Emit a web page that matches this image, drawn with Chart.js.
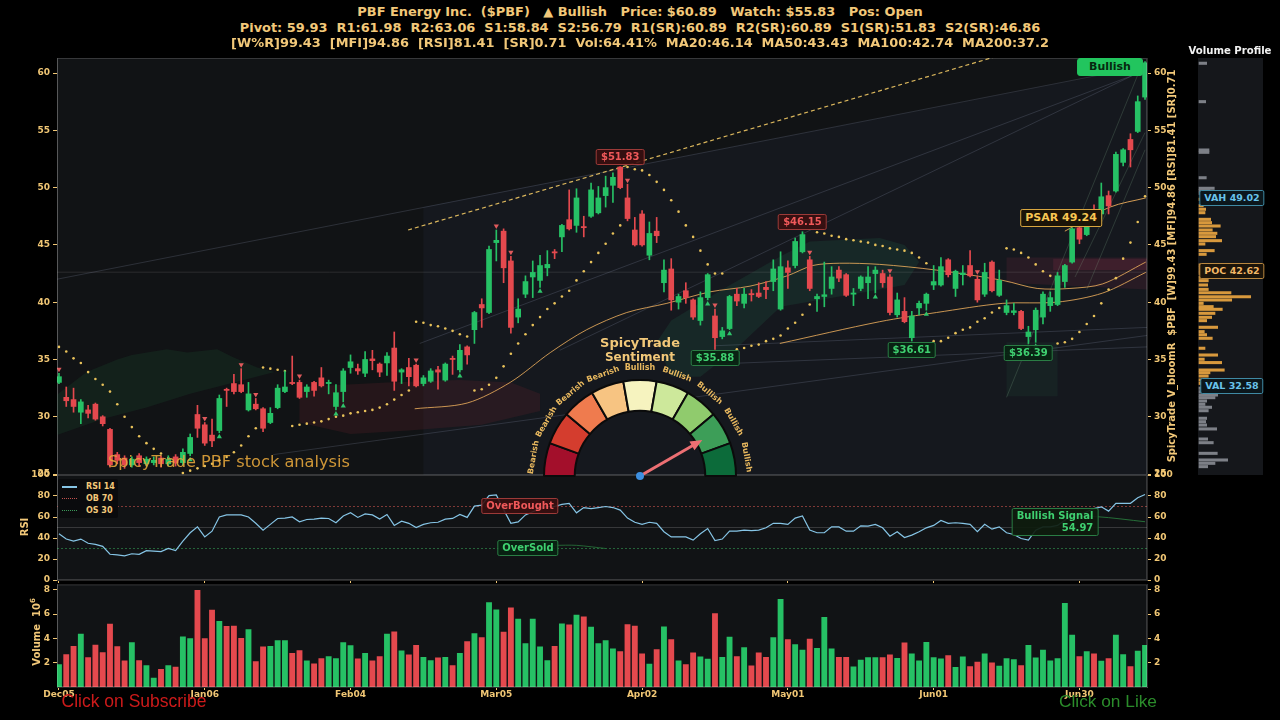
<!DOCTYPE html>
<html lang="en">
<head>
<meta charset="UTF-8">
<title>PBF Energy chart</title>
<script src="https://cdn.jsdelivr.net/npm/chart.js@4.4.1/dist/chart.umd.min.js"></script>
<style>
  html, body { margin: 0; padding: 0; background: #000; }
  body { position: relative; width: 1280px; height: 720px; overflow: hidden; font-family: 'DejaVu Sans', sans-serif; }
  canvas { position: absolute; }
  .txt { position: absolute; white-space: pre; font-weight: bold; color: #f2c879; transform: translate(-50%, -50%); line-height: 1; }
  .box { position: absolute; white-space: pre; transform: translate(-50%, -50%); font: bold 10px 'DejaVu Sans', sans-serif; padding: 1px 4px; border: 1px solid; border-radius: 2px; line-height: 12px; }
  .red { color: #f0595a; border-color: #9c3a38; background: rgba(58, 16, 16, 0.9); }
  .grn { color: #3fd070; border-color: #2a7d44; background: rgba(8, 36, 18, 0.9); }
  .psar { color: #f7c653; border-color: #d8a640; background: #1b1408; font-size: 11px; line-height: 14px; }
  .bull { color: #07290f; background: #22c55e; border-color: #22c55e; font-size: 11px; padding: 2px 11px; border-radius: 3px; }
  .vah { color: #69c3ea; border-color: #3f8aa4; background: #0c171c; font-size: 9.5px; }
  .poc { color: #f2b766; border-color: #b9873f; background: #1b140a; font-size: 9.5px; }
  .rot { position: absolute; white-space: pre; font-weight: bold; color: #f2c879; transform: translate(-50%, -50%) rotate(-90deg); line-height: 1; }
  .leg { position: absolute; left: 28px; font: bold 8px 'DejaVu Sans', sans-serif; color: #f2c879; }
  .sw { position: absolute; left: 4px; width: 15px; height: 0; }
</style>
</head>
<body>
<canvas id="main" width="1280" height="440" style="left:0;top:48px"></canvas>
<canvas id="rsi" width="1280" height="124" style="left:0;top:466px"></canvas>
<canvas id="vol" width="1280" height="144" style="left:0;top:576px"></canvas>
<canvas id="vp" width="65" height="417" style="left:1198px;top:58px"></canvas>
<canvas id="gauge" width="240" height="130" style="left:520px;top:363px"></canvas>

<div class="txt" id="t1" data-w="566" style="left:640px;top:12px;font-size:13px">PBF Energy Inc.  ($PBF)   ▲ Bullish   Price: $60.89   Watch: $55.83   Pos: Open</div>
<div class="txt" id="t2" data-w="801" style="left:640px;top:28px;font-size:13px">Pivot: 59.93  R1:61.98  R2:63.06  S1:58.84  S2:56.79  R1(SR):60.89  R2(SR):60.89  S1(SR):51.83  S2(SR):46.86</div>
<div class="txt" id="t3" data-w="819" style="left:640px;top:43px;font-size:13px">[W%R]99.43  [MFI]94.86  [RSI]81.41  [SR]0.71  Vol:64.41%  MA20:46.14  MA50:43.43  MA100:42.74  MA200:37.2</div>
<div class="txt" data-w="83" style="left:1230px;top:51px;font-size:10px;color:#f2f2f2">Volume Profile</div>
<div class="rot" data-w="393" style="left:1172px;top:266px;font-size:11px">SpicyTrade V_bloomR  $PBF  [W]99.43 [MFI]94.86 [RSI]81.41 [SR]0.71</div>
<div class="rot" style="left:25px;top:527px;font-size:10px">RSI</div>
<div class="rot" style="left:36px;top:632px;font-size:10px">Volume  10<sup style="font-size:7px">6</sup></div>

<div class="txt" data-w="80" style="left:640px;top:343px;font-size:12px">SpicyTrade</div>
<div class="txt" data-w="70" style="left:640px;top:357px;font-size:12px">Sentiment</div>

<div class="txt" data-w="242" style="left:229px;top:462px;font-size:17px;font-weight:normal;color:rgba(232,168,60,0.88)">SpicyTrade PBF stock analysis</div>
<div class="txt" data-w="145" style="left:134px;top:702px;font-size:18px;font-weight:normal;font-family:'Liberation Sans',sans-serif;color:#cc1a1a">Click on Subscribe</div>
<div class="txt" data-w="98" style="left:1108px;top:702px;font-size:18px;font-weight:normal;font-family:'Liberation Sans',sans-serif;color:#2b8c2b">Click on Like</div>

<div class="box psar" style="left:1061px;top:218px">PSAR 49.24</div>
<div class="box bull" style="left:1110px;top:67px">Bullish</div>
<div class="box red" style="left:520px;top:506px">OverBought</div>
<div class="box grn" style="left:528px;top:548px">OverSold</div>
<div class="box grn" style="left:1055px;top:522px;text-align:right;background:rgba(14,28,14,0.92)">Bullish Signal
54.97</div>
<div class="box vah" style="left:1232px;top:198px">VAH 49.02</div>
<div class="box poc" style="left:1232px;top:271px">POC 42.62</div>
<div class="box vah" style="left:1232px;top:386px">VAL 32.58</div>

<div id="leg" style="position:absolute;left:58px;top:479px;width:60px;height:39px;background:#0a0b0d;border-radius:2px">
  <span class="sw" style="top:7px;border-top:2px solid #86c5e6"></span><span class="leg" style="top:3px">RSI 14</span>
  <span class="sw" style="top:19px;border-top:1px dotted #c0504d"></span><span class="leg" style="top:15px">OB 70</span>
  <span class="sw" style="top:31px;border-top:1px dotted #3a9a58"></span><span class="leg" style="top:27px">OS 30</span>
</div>

<script>
// x axis: one slot per trading day, a label every 20 bars
const tickLabels = ['Dec05', 'Jan06', 'Feb04', 'Mar05', 'Apr02', 'May01', 'Jun01', 'Jun30'];
const tickIndex = [0, 20, 40, 60, 80, 100, 120, 140];
const priceTicks = [25, 30, 35, 40, 45, 50, 55, 60];
const rsiTicks = [0, 20, 40, 60, 80, 100];
const volTicks = [2, 4, 6, 8];

const opens = [
  33.0, 31.7, 31.5, 30.4, 30.6, 31.1, 30.0, 28.9, 26.7, 26.4,
  25.8, 26.6, 25.9, 26.0, 26.4, 25.9, 26.5, 26.0, 26.8, 30.2,
  29.3, 28.4, 28.8, 32.4, 32.9, 32.8, 30.6, 31.1, 30.7, 29.5,
  30.8, 32.2, 33.0, 33.0, 32.2, 33.0, 33.4, 32.9, 30.9, 32.2,
  34.3, 34.2, 33.8, 35.05, 34.6, 34.7, 36.0, 33.9, 34.3, 34.5,
  32.9, 33.1, 34.1, 33.2, 35.1, 34.1, 36.1, 37.6, 39.8, 39.1,
  45.2, 46.2, 43.6, 38.7, 40.7, 42.2, 41.9, 43.0, 44.4, 45.7,
  47.2, 46.7, 46.6, 47.5, 47.8, 49.3, 50.2, 51.8, 49.1, 46.3,
  47.7, 44.1, 46.2, 41.7, 42.9, 40.0, 41.0, 40.2, 38.4, 40.4,
  38.8, 37.0, 37.7, 40.7, 39.9, 40.75, 40.8, 41.3, 41.8, 39.4,
  43.0, 43.2, 44.4, 43.7, 40.3, 40.5, 41.2, 42.8, 42.4, 40.7,
  41.2, 41.7, 42.5, 42.5, 42.2, 38.9, 39.2, 36.9, 39.5, 39.9,
  41.5, 41.5, 43.7, 41.2, 42.4, 43.2, 42.0, 40.7, 43.5, 40.6,
  39.1, 39.1, 39.2, 37.0, 37.6, 38.7, 39.7, 39.8, 41.8, 43.5,
  46.5, 45.9, 48.1, 47.7, 49.3, 49.7, 52.2, 54.2, 54.9, 57.9
];
const highs = [
  33.8, 32.6, 32.5, 31.5, 31.0, 31.2, 30.1, 29.0, 26.9, 26.6,
  26.5, 26.8, 26.5, 26.5, 26.6, 26.6, 26.7, 27.2, 28.5, 31.0,
  29.5, 29.8, 31.9, 32.5, 33.7, 34.2, 33.0, 31.6, 30.8, 30.8,
  32.8, 34.0, 35.3, 33.2, 32.8, 33.1, 34.3, 33.2, 32.8, 34.2,
  35.4, 34.6, 35.7, 35.8, 34.7, 35.6, 37.4, 34.2, 35.1, 34.6,
  33.6, 34.2, 34.4, 34.7, 35.3, 36.3, 36.2, 39.2, 40.3, 44.9,
  46.3, 46.4, 44.0, 40.3, 42.3, 43.6, 44.1, 44.5, 44.6, 46.8,
  49.8, 49.9, 47.5, 50.4, 50.1, 51.0, 51.3, 51.83, 50.3, 47.4,
  48.0, 47.0, 47.4, 43.7, 43.8, 40.7, 41.7, 40.3, 40.9, 42.5,
  39.4, 37.8, 40.6, 41.2, 41.2, 41.1, 41.7, 41.8, 43.7, 44.4,
  43.6, 45.6, 46.15, 44.0, 40.7, 43.5, 43.1, 43.1, 42.5, 41.2,
  42.3, 43.1, 43.1, 42.8, 42.4, 40.8, 40.4, 39.2, 40.1, 40.8,
  43.2, 43.9, 43.8, 42.8, 43.2, 44.5, 42.3, 43.4, 43.6, 42.8,
  40.2, 39.9, 39.3, 37.9, 39.5, 40.9, 40.9, 42.6, 43.3, 46.5,
  46.8, 48.1, 48.5, 50.4, 49.7, 53.1, 53.4, 54.7, 58.0, 61.0
];
const lows = [
  32.9, 30.9, 30.4, 29.4, 29.9, 29.7, 29.2, 25.6, 25.9, 25.5,
  25.6, 25.7, 25.7, 25.8, 25.6, 25.7, 25.7, 25.8, 26.6, 28.2,
  27.5, 27.4, 28.6, 30.9, 32.0, 32.1, 30.5, 30.6, 28.7, 29.4,
  30.7, 32.1, 32.8, 31.6, 31.7, 31.8, 32.6, 32.0, 30.6, 31.3,
  33.8, 33.7, 33.5, 34.1, 33.5, 33.6, 32.3, 32.9, 32.7, 32.6,
  32.7, 33.0, 32.4, 33.1, 33.7, 33.9, 34.6, 36.4, 37.8, 39.0,
  43.6, 41.7, 37.3, 38.2, 40.4, 40.4, 41.3, 42.3, 43.8, 44.4,
  46.3, 46.1, 45.7, 47.4, 47.7, 48.3, 48.7, 49.9, 47.1, 44.9,
  44.9, 43.7, 45.2, 40.9, 39.3, 39.4, 39.9, 38.5, 38.0, 40.2,
  35.88, 36.8, 37.6, 39.7, 39.5, 40.1, 40.4, 40.3, 41.0, 39.3,
  41.2, 43.0, 44.3, 41.0, 39.2, 39.6, 40.7, 41.8, 40.5, 39.7,
  41.0, 40.3, 40.8, 41.3, 38.9, 38.7, 38.2, 36.61, 38.9, 39.3,
  41.1, 41.4, 42.2, 40.5, 41.5, 42.2, 40.0, 40.5, 40.9, 40.5,
  38.9, 38.9, 37.6, 36.39, 36.5, 38.1, 39.2, 39.7, 41.3, 43.4,
  45.1, 45.8, 47.2, 47.3, 47.7, 49.6, 51.9, 51.8, 54.8, 57.7
];
const closes = [
  33.5, 31.4, 30.9, 31.3, 30.3, 29.8, 29.4, 25.8, 26.2, 25.8,
  26.3, 26.0, 26.3, 26.2, 25.9, 26.3, 26.0, 26.9, 28.2, 29.0,
  27.7, 27.9, 31.6, 32.3, 32.2, 32.2, 32.0, 30.7, 29.0, 30.3,
  32.5, 32.6, 32.9, 31.7, 32.6, 32.3, 32.7, 33.0, 32.1, 34.0,
  34.8, 34.0, 35.0, 34.9, 33.9, 35.3, 33.1, 34.1, 33.5, 32.7,
  33.4, 34.0, 33.9, 34.6, 35.0, 35.8, 35.4, 39.1, 39.5, 44.6,
  45.4, 43.0, 37.8, 39.4, 41.8, 42.6, 43.2, 43.3, 44.3, 46.7,
  46.4, 49.1, 46.5, 49.8, 49.1, 50.0, 50.9, 50.0, 47.3, 45.0,
  45.0, 46.0, 45.8, 42.8, 40.2, 40.5, 40.4, 38.7, 40.4, 42.4,
  36.9, 37.5, 40.5, 40.1, 40.7, 40.65, 40.5, 41.1, 42.9, 43.1,
  42.6, 45.3, 45.9, 41.2, 40.5, 40.65, 42.2, 42.1, 40.6, 40.8,
  42.2, 42.2, 42.8, 41.7, 39.1, 40.2, 38.3, 38.8, 39.9, 40.7,
  41.8, 43.1, 42.4, 42.7, 42.55, 42.3, 40.2, 42.6, 41.0, 41.9,
  39.7, 39.25, 37.7, 37.4, 39.3, 40.7, 40.4, 42.3, 43.2, 46.4,
  45.5, 47.9, 47.7, 49.2, 48.4, 52.9, 53.3, 53.3, 57.5, 60.89
];
// volume in millions
const volumes = [
  1.85, 2.67, 3.35, 4.36, 2.43, 3.46, 2.84, 5.18, 3.33, 2.15,
  3.65, 2.18, 1.77, 0.74, 1.45, 1.77, 1.64, 4.14, 3.98, 7.96,
  3.98, 6.33, 5.40, 4.99, 5.02, 4.01, 4.72, 2.10, 3.30, 3.35,
  3.82, 3.82, 2.78, 3.00, 2.15, 1.91, 2.35, 2.51, 2.35, 3.65,
  3.41, 2.32, 2.78, 2.15, 2.51, 4.36, 4.55, 2.97, 2.65, 3.44,
  2.45, 2.18, 2.40, 2.45, 1.77, 2.78, 3.74, 4.39, 4.06, 6.95,
  6.35, 4.53, 6.52, 5.59, 3.57, 5.59, 3.30, 2.18, 3.35, 5.21,
  5.13, 5.92, 5.78, 4.94, 3.57, 3.82, 3.14, 2.92, 5.15, 5.02,
  2.73, 1.88, 3.08, 4.96, 3.90, 2.15, 1.85, 2.81, 2.48, 2.29,
  6.05, 2.45, 4.12, 2.51, 3.25, 1.75, 2.81, 2.45, 4.06, 7.23,
  3.90, 3.49, 3.05, 3.95, 3.19, 5.73, 3.14, 2.45, 2.45, 1.66,
  2.21, 2.43, 2.43, 2.43, 2.65, 2.37, 3.63, 2.73, 2.15, 3.68,
  2.43, 2.32, 2.59, 1.61, 2.48, 1.69, 2.05, 2.73, 1.99, 1.72,
  2.35, 2.26, 1.77, 3.44, 2.40, 3.05, 2.15, 2.35, 6.90, 4.28,
  2.51, 2.92, 2.73, 2.13, 2.35, 4.28, 2.67, 1.69, 2.95, 3.44
];
const rsi = [
  44, 39, 37, 39, 35, 34, 32, 24.5, 24, 23,
  25, 24.5, 28, 27.5, 27, 30, 28, 37, 45, 50.6,
  41, 46.5, 60, 62, 62, 62, 60, 54, 47.5, 53,
  58.6, 59, 60, 55.4, 57.6, 58, 59, 58.6, 54.5, 61,
  64, 59.6, 63, 62, 58, 62.4, 52, 56, 54, 50,
  53, 54.5, 55, 58, 58.6, 62.4, 59.6, 70.4, 71.3, 80.3,
  81, 67, 54, 55.4, 62, 65, 68, 70, 70, 72,
  73, 64, 69, 68, 69, 70, 69, 66.6, 59, 55,
  53, 55, 54, 46, 41, 41, 41, 38, 44, 49,
  37.6, 39, 46.5, 46.5, 47.5, 47, 47.5, 49.7, 54, 54,
  53, 59, 61, 47.5, 45, 45, 50.6, 50.6, 46.5, 46.5,
  51.6, 51.3, 53, 49.7, 41.7, 46, 40.4, 42.7, 46, 49.7,
  52, 56.7, 54, 54.5, 54, 53, 46, 53, 48.4, 50.6,
  45, 43.3, 39.5, 38, 47.5, 50.6, 50.6, 52, 57, 62,
  62, 65, 68, 69.7, 65.6, 73, 73, 73, 78.3, 81.5
];
const psar = [
  36.1, 35.7, 35.1, 34.7, 33.9, 33.3, 32.8, 32.2, 31.1, 30.0,
  29.1, 28.3, 27.7, 27.2, 26.8, 26.4, 26.0, 25.1, 25.3, 25.5,
  25.7, 25.9, 26.2, 26.5, 26.9, 27.5, 28.3, 29.0, 34.3, 34.2,
  34.1, 34.0, 29.2, 29.3, 29.4, 29.5, 29.6, 29.8, 30.0, 30.1,
  30.3, 30.4, 30.5, 30.6, 30.8, 31.1, 31.5, 31.9, 32.3, 38.3,
  38.2, 38.0, 37.9, 37.7, 37.5, 37.2, 37.0, 32.3, 32.4, 32.8,
  33.4, 34.4, 35.5, 36.4, 37.2, 38.0, 38.7, 39.4, 39.9, 40.5,
  41.0, 41.9, 42.7, 43.5, 44.3, 45.1, 46.0, 46.7, 51.8, 51.6,
  51.5, 51.1, 50.5, 49.8, 48.9, 47.9, 46.7, 45.7, 44.5, 43.3,
  42.5, 42.5, null, 35.9, 36.0, 36.2, 36.3, 36.6, 36.8, 37.1,
  37.7, 38.2, 38.9, 39.8, 46.1, 46.0, 45.8, 45.7, 45.5, 45.4,
  45.3, 45.2, 45.0, 44.9, 44.7, 44.6, 44.5, 44.3, 43.9, 43.4,
  36.6, 36.6, 36.9, 37.3, 37.6, 37.8, 38.3, 38.6, 39.1, 39.5,
  44.7, 44.6, 44.3, 43.9, 43.3, 42.7, 42.3, 36.4, 36.5, 36.8,
  37.4, 38.1, 38.8, 39.9, 41.1, 42.1, 43.8, 45.2, 47.0, 49.24
];
// signal markers: bar indices with a sell triangle above / buy triangle below
const sellMarks = [0, 20, 25, 27, 33, 49, 60, 62, 78, 90, 103, 114, 126];
const buyMarks = [18, 22, 38, 39, 55, 66, 89, 92, 112, 119, 133, 134];

// moving averages (bar index, price)
const maSlowX = [48.8, 56, 61.9, 67.4, 72.4, 77.9, 83.4, 89.3, 94.8, 99.9, 103.4, 107.1, 112.6, 120.4, 129.5, 134.2, 138.7, 143.2, 149.1];
const maSlowY = [30.7, 31.2, 33.0, 35.6, 37.6, 39.1, 39.9, 40.9, 41.4, 42.3, 43.2, 43.4, 43.3, 42.8, 41.9, 41.2, 41.2, 41.6, 43.5];
const maLongX = [98.9, 112.6, 120.4, 129.5, 136.9, 143.2, 149.1];
const maLongY = [36.4, 38.3, 39.1, 39.9, 40.0, 40.8, 42.6];
const maFastX = [138, 144.2, 149.1];
const maFastY = [46.2, 48.3, 49.1];

// trend / channel lines: [x0, y0, x1, y1]
const trendDashed = [47.9, 46.3, 131, 61.9];
const channelLines = [
  [-0.3, 42.0, 149, 60.6],
  [49.5, 36.4, 148.6, 60.1],
  [68.7, 35.8, 149, 60.3],
  [29.4, 26.7, 149.3, 37.1],
  [90, 36.2, 149.3, 37.8],
  [90, 34.6, 149.3, 36.1]
];
const fanLines = [
  [130, 31.7, 148.3, 60.3],
  [139.4, 42.2, 149, 54.8],
  [141, 41.1, 149, 53.3]
];
const pocPrice = 42.62, vahPrice = 49.02, valPrice = 32.58;

// shaded zones, outline points (bar index, price)
const zoneChannel = [[50, 48.3], [149.3, 60.6], [149.3, 24.9], [50, 24.9]];
const zoneGreenA = [[-0.3, 31.9], [3.8, 33.9], [8, 35.0], [10, 35.4], [14.8, 35.9], [17.6, 35.6], [21.7, 35.9], [23.9, 35.2], [27.2, 34.3], [29.6, 33.9], [24, 33.0], [18, 32.0], [12, 30.8], [6, 29.8], [-0.3, 28.4]];
const zoneRedA = [[33, 32.6], [45, 33.0], [55, 33.2], [62, 33.0], [66, 32.0], [66, 30.5], [58, 29.3], [48, 28.8], [40, 28.5], [33, 29.5]];
const zoneGreenB = [[82, 36.5], [84, 38.4], [91, 41.1], [99, 44.0], [103, 45.3], [112.6, 45.6], [116, 45.0], [118, 43.5], [116, 41.5], [112.6, 41.1], [99, 39.6], [93, 36.0], [88, 33.5], [84, 33.5]];
const zoneRedB = [[130, 43.9], [149.3, 43.9], [149.3, 41.1], [130, 41.7]];
const zoneRedC = [[136.4, 43.8], [149.3, 43.8], [149.3, 42.8], [136.4, 42.8]];
const zoneGreenC = [[130, 36.5], [137, 36.5], [137, 31.8], [130, 31.8]];

// RSI helper lines
const rsiSignalA = [[68, 33], [71, 33], [75, 30]];
const rsiSignalB = [[138, 60], [142.4, 60.3], [149, 55.5]];

// volume profile bins: price level and relative size
const vpPrice = [60.85, 57.5, 53.28, 53.08, 50.86, 49.94, 49.73, 49.5, 48.98, 48.42, 48.11, 47.81, 47.23, 46.94, 46.65, 46.3, 46.01, 45.72, 45.37, 45.08, 44.5, 44.18, 43.25, 43.01, 42.75, 42.52, 42.17, 41.88, 41.5, 41.12, 40.83, 40.48, 40.19, 39.9, 39.61, 39.38, 39.03, 38.68, 38.39, 37.81, 37.43, 37.16, 36.85, 35.98, 35.39, 35.02, 34.73, 34.08, 33.85, 33.56, 33.21, 32.92, 32.49, 32.19, 31.9, 31.67, 31.38, 31.09, 30.83, 30.53, 29.87, 29.57, 29.28, 28.94, 28.06, 27.74, 26.81, 26.23, 25.94, 25.65];
const vpSize = [7.7, 6.7, 10, 10, 7.3, 15.3, 11, 4.3, 3.3, 4.3, 6.7, 6, 11.7, 12.7, 21.3, 13.3, 18, 16.7, 22.7, 6, 15.3, 7.3, 33.7, 29.3, 20, 14.3, 19.3, 9.3, 8.7, 9.3, 32, 51.7, 32.7, 4.3, 14.3, 23.3, 16, 12.7, 7.7, 18.7, 5.3, 7.7, 13.3, 6, 18.7, 5.3, 22.7, 25.3, 11, 9.3, 6.7, 9.3, 6.7, 17.7, 18.7, 16, 7.7, 6, 12.7, 9.3, 7.7, 6.7, 7.7, 17.7, 8.7, 14.3, 18.3, 28.7, 16, 8.7];

// sentiment gauge
const gaugeLabels = ['Bearish', 'Bearish', 'Bearish', 'Bearish', 'Bullish', 'Bullish', 'Bullish', 'Bullish', 'Bullish'];
const gaugeValues = [1, 1, 1, 1, 1, 1, 1, 1, 1];
const gaugeColors = ['#a30f2b', '#d43d2e', '#ef7b4e', '#f7c482', '#f6f3bf', '#cde89b', '#90cb6d', '#3d9e58', '#0c6b3a'];
const sentimentScore = 83.3;

const GOLD = '#f0c674';
const GREEN = '#26c165';
const RED = '#e4494e';
const FRAME = 'rgba(255,255,255,0.16)';
const PLOT_BG = '#111315';
const tickFont = { family: "'DejaVu Sans', sans-serif", size: 9, weight: 'bold' };

Chart.defaults.animation = false;
Chart.defaults.font.family = "'DejaVu Sans', sans-serif";

const idx = closes.map((_, i) => i);
const candleColors = idx.map(i => closes[i] >= opens[i] ? GREEN : RED);
const XMIN = -0.27, XMAX = 149.27;

const framePlugin = {
  id: 'frame',
  beforeDraw(chart, args, opts) {
    const a = chart.chartArea, ctx = chart.ctx;
    ctx.save();
    ctx.fillStyle = opts.bg;
    ctx.fillRect(a.left, a.top, a.right - a.left, a.bottom - a.top);
    ctx.restore();
  },
  afterDraw(chart, args, opts) {
    if (!opts.border) return;
    const a = chart.chartArea, ctx = chart.ctx;
    ctx.save();
    ctx.strokeStyle = opts.border;
    ctx.lineWidth = 1;
    ctx.strokeRect(a.left + 0.5, a.top + 0.5, a.right - a.left - 1, a.bottom - a.top - 1);
    ctx.restore();
  }
};

function yAxis(pos, min, max, ticks, width) {
  return {
    type: 'linear', position: pos, min, max, bounds: 'data',
    afterFit: s => { s.width = width; },
    afterBuildTicks: s => { s.ticks = ticks.map(v => ({ value: v })); },
    ticks: { color: GOLD, font: tickFont, padding: 3 },
    grid: { drawOnChartArea: false, color: GOLD, tickLength: 4 },
    border: { color: FRAME }
  };
}
function xAxis(show, labels, height) {
  return {
    type: 'linear', min: XMIN, max: XMAX, offset: false, bounds: 'data',
    display: show,
    afterFit: s => { s.height = height; },
    afterBuildTicks: s => { s.ticks = tickIndex.map(v => ({ value: v })); },
    ticks: {
      display: labels, color: GOLD, font: tickFont, padding: -1, maxRotation: 0, autoSkip: false,
      callback: v => tickLabels[tickIndex.indexOf(v)]
    },
    grid: { drawOnChartArea: false, color: GOLD, tickLength: 3, offset: false },
    border: { color: FRAME }
  };
}
const seg = (s, color, width, dash, order) => ({
  type: 'line', data: [{ x: s[0], y: s[1] }, { x: s[2], y: s[3] }],
  borderColor: color, borderWidth: width, borderDash: dash || [], pointRadius: 0, fill: false, order
});
const line = (xs, ys, color, width, order) => ({
  type: 'line', data: xs.map((x, k) => ({ x, y: ys[k] })),
  borderColor: color, borderWidth: width, pointRadius: 0, fill: false, tension: 0.3, order
});
const zone = (pts, color, order) => ({
  type: 'line', data: pts.map(p => ({ x: p[0], y: p[1] })),
  borderWidth: 0, borderColor: 'transparent', backgroundColor: color, pointRadius: 0, fill: 'shape', order
});
const marks = (list, price, color, rot, order) => ({
  type: 'line', data: list.map(i => ({ x: i, y: price(i) })), showLine: false,
  pointStyle: 'triangle', pointRotation: rot, pointRadius: 3, pointBackgroundColor: color, pointBorderWidth: 0, order
});
const common = {
  responsive: false, devicePixelRatio: 1, events: [],
  plugins: { legend: { display: false }, tooltip: { enabled: false } }
};

// ---- price panel
const mainChart = new Chart(document.getElementById('main'), {
  type: 'bar',
  data: {
    datasets: [
      marks(sellMarks, i => highs[i] + 0.35, '#e05a5c', 180, 0),
      marks(buyMarks, i => lows[i] - 0.35, '#2fc46a', 0, 0),
      { type: 'bar', data: idx.map(i => ({ x: i, y: [opens[i], closes[i]] })), backgroundColor: candleColors,
        barThickness: 5, grouped: false, minBarLength: 1, borderWidth: 0, order: 1 },
      { type: 'bar', data: idx.map(i => ({ x: i, y: [lows[i], highs[i]] })), backgroundColor: candleColors,
        barThickness: 1, grouped: false, borderWidth: 0, order: 2 },
      { type: 'line', data: idx.map(i => ({ x: i, y: psar[i] })), showLine: false, pointRadius: 1.3,
        pointBackgroundColor: '#e9c25a', pointBorderWidth: 0, order: 3 },
      line(maFastX, maFastY, 'rgba(232,170,90,0.9)', 1, 4),
      line(maSlowX, maSlowY, 'rgba(232,170,90,0.85)', 1, 4),
      line(maLongX, maLongY, 'rgba(232,170,90,0.85)', 1, 4),
      seg(trendDashed, 'rgba(240,200,100,0.9)', 1.2, [4, 3], 5),
      ...channelLines.map(s => seg(s, 'rgba(150,160,190,0.26)', 0.8, [], 6)),
      ...fanLines.map(s => seg(s, 'rgba(140,190,150,0.26)', 0.8, [], 6)),
      seg([XMIN, pocPrice, XMAX, pocPrice], 'rgba(160,160,160,0.18)', 1, [], 6),
      zone(zoneRedC, 'rgba(150,50,80,0.2)', 7),
      zone(zoneRedB, 'rgba(130,45,65,0.18)', 8),
      zone(zoneGreenC, 'rgba(40,110,70,0.12)', 8),
      zone(zoneGreenB, 'rgba(35,105,75,0.2)', 8),
      zone(zoneRedA, 'rgba(110,35,45,0.22)', 8),
      zone(zoneGreenA, 'rgba(30,90,55,0.2)', 8),
      zone(zoneChannel, 'rgba(80,95,150,0.07)', 9)
    ]
  },
  options: {
    ...common,
    layout: { padding: { top: 10, bottom: 13, left: 0, right: 0 } },
    scales: {
      x: xAxis(false, false, 0),
      y: yAxis('left', 24.92, 61.31, priceTicks, 57),
      y2: yAxis('right', 24.92, 61.31, priceTicks, 133)
    },
    plugins: { ...common.plugins, frame: { bg: PLOT_BG, border: FRAME } }
  },
  plugins: [framePlugin]
});

// ---- RSI panel
new Chart(document.getElementById('rsi'), {
  type: 'line',
  data: {
    datasets: [
      { data: idx.map(i => ({ x: i, y: rsi[i] })), borderColor: '#86c5e6', borderWidth: 1.2, pointRadius: 0, order: 1 },
      line(rsiSignalA.map(p => p[0]), rsiSignalA.map(p => p[1]), 'rgba(40,120,60,0.8)', 1, 2),
      line(rsiSignalB.map(p => p[0]), rsiSignalB.map(p => p[1]), 'rgba(40,120,60,0.9)', 1, 2),
      seg([XMIN, 70, XMAX, 70], 'rgba(190,80,75,0.8)', 0.8, [2, 2], 3),
      seg([XMIN, 30, XMAX, 30], 'rgba(50,150,80,0.8)', 0.8, [2, 2], 3),
      seg([XMIN, 50, XMAX, 50], 'rgba(255,255,255,0.16)', 1, [], 3)
    ]
  },
  options: {
    ...common,
    layout: { padding: { top: 9, bottom: 6, left: 0, right: 0 } },
    scales: {
      x: xAxis(true, false, 4),
      y: yAxis('left', 0, 100, rsiTicks, 57),
      y2: yAxis('right', 0, 100, rsiTicks, 133)
    },
    plugins: { ...common.plugins, frame: { bg: PLOT_BG, border: FRAME } }
  },
  plugins: [framePlugin]
});

// ---- volume panel
new Chart(document.getElementById('vol'), {
  type: 'bar',
  data: {
    datasets: [{ data: idx.map(i => ({ x: i, y: volumes[i] })), backgroundColor: candleColors, barThickness: 5.2, borderWidth: 0 }]
  },
  options: {
    ...common,
    layout: { padding: { top: 8, bottom: 17, left: 0, right: 0 } },
    scales: {
      x: xAxis(true, true, 16),
      y: yAxis('left', 0, 8.45, volTicks, 57),
      y2: yAxis('right', 0, 8.45, volTicks, 133)
    },
    plugins: { ...common.plugins, frame: { bg: PLOT_BG, border: FRAME } }
  },
  plugins: [framePlugin]
});

// ---- volume profile
new Chart(document.getElementById('vp'), {
  type: 'bar',
  data: {
    datasets: [{
      data: vpPrice.map((p, k) => ({ x: vpSize[k], y: p })),
      backgroundColor: vpPrice.map(p => (p > vahPrice || p < valPrice) ? '#7d8087' : '#d8993d'),
      barThickness: 2.4, borderWidth: 0
    }]
  },
  options: {
    ...common, indexAxis: 'y',
    layout: { padding: 0 },
    scales: {
      x: { type: 'linear', min: -1, max: 64, display: false },
      y: { type: 'linear', min: 24.92, max: 61.31, display: false, offset: false }
    },
    plugins: { ...common.plugins, frame: { bg: '#15171b' } }
  },
  plugins: [framePlugin]
});

// ---- sentiment gauge
const gaugePlugin = {
  id: 'gaugeDeco',
  afterDraw(chart) {
    const ctx = chart.ctx;
    const arcs = chart.getDatasetMeta(0).data;
    const cx = arcs[0].x, cy = arcs[0].y;
    ctx.save();
    ctx.fillStyle = '#e9b95f';
    ctx.font = "bold 8px 'DejaVu Sans', sans-serif";
    ctx.textAlign = 'center';
    ctx.textBaseline = 'middle';
    arcs.forEach((a, k) => {
      const mid = (a.startAngle + a.endAngle) / 2;
      ctx.save();
      ctx.translate(cx + 108 * Math.cos(mid), cy + 108 * Math.sin(mid));
      ctx.rotate(mid + Math.PI / 2);
      ctx.fillText(gaugeLabels[k], 0, 0);
      ctx.restore();
    });
    const ang = -Math.PI + Math.PI * sentimentScore / 100;
    const r = 72;
    const tx = cx + r * Math.cos(ang), ty = cy + r * Math.sin(ang);
    ctx.strokeStyle = '#ec6f73';
    ctx.fillStyle = '#ec6f73';
    ctx.lineWidth = 3;
    ctx.beginPath();
    ctx.moveTo(cx, cy);
    ctx.lineTo(cx + (r - 8) * Math.cos(ang), cy + (r - 8) * Math.sin(ang));
    ctx.stroke();
    ctx.beginPath();
    ctx.moveTo(tx, ty);
    ctx.lineTo(tx - 13 * Math.cos(ang - 0.4), ty - 13 * Math.sin(ang - 0.4));
    ctx.lineTo(tx - 13 * Math.cos(ang + 0.4), ty - 13 * Math.sin(ang + 0.4));
    ctx.closePath();
    ctx.fill();
    ctx.fillStyle = '#3d8fe0';
    ctx.beginPath();
    ctx.arc(cx, cy, 4, 0, Math.PI * 2);
    ctx.fill();
    ctx.restore();
  }
};
new Chart(document.getElementById('gauge'), {
  type: 'doughnut',
  data: { labels: gaugeLabels, datasets: [{ data: gaugeValues, backgroundColor: gaugeColors, borderColor: '#0b0b0b', borderWidth: 2 }] },
  options: { ...common, rotation: -90, circumference: 180, radius: 96, cutout: '68%', layout: { padding: 0 } },
  plugins: [gaugePlugin]
});

// ---- price labels at swing highs / lows
const mainEl = document.getElementById('main');
function addPriceLabel(i, price, cls, dy) {
  const el = document.createElement('div');
  el.className = 'box ' + cls;
  el.textContent = '$' + price.toFixed(2);
  el.style.left = (mainEl.offsetLeft + mainChart.scales.x.getPixelForValue(i)) + 'px';
  el.style.top = (mainEl.offsetTop + mainChart.scales.y.getPixelForValue(price) + dy) + 'px';
  document.body.appendChild(el);
}
[77, 102].forEach(i => addPriceLabel(i, highs[i], 'red', -10));
[90, 117, 133].forEach(i => addPriceLabel(i, lows[i], 'grn', 9));

// ---- fit text widths to the reference
document.querySelectorAll('[data-w]').forEach(el => {
  const fs = parseFloat(getComputedStyle(el).fontSize);
  el.style.fontSize = (fs * (+el.dataset.w) / el.offsetWidth) + 'px';
});
</script>
</body>
</html>
